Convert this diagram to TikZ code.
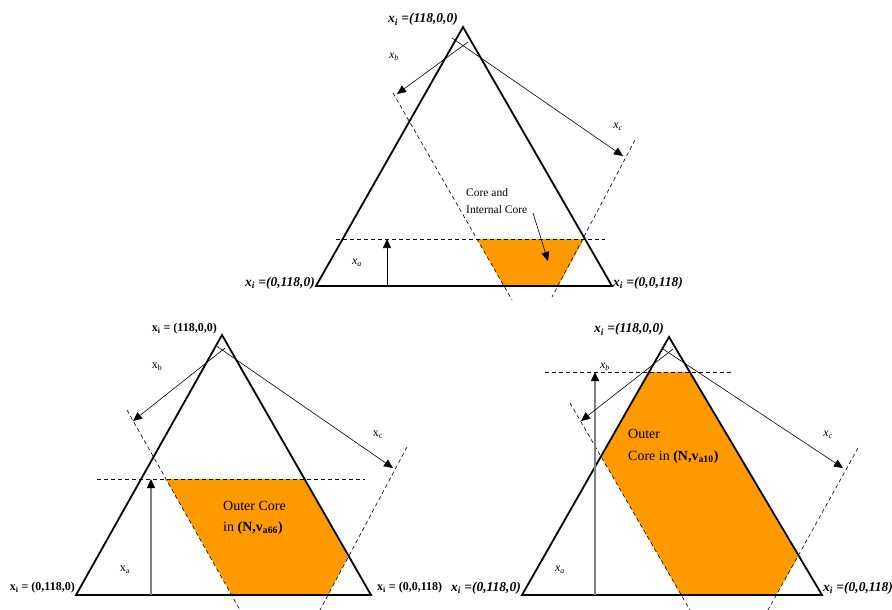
\documentclass[tikz,border=0pt]{standalone}
\usepackage{fontspec}
\setmainfont{Liberation Serif}
\usetikzlibrary{arrows.meta,positioning}
\definecolor{coreorange}{HTML}{FF9900}
\tikzset{
  side/.style={line width=1.8pt, line join=miter},
  cutline/.style={line width=0.6pt, dash pattern=on 4pt off 3pt},
  dirarrow/.style={line width=0.6pt, -{Triangle[length=9pt,width=8pt]}},
  uparrow/.style={line width=1.3pt, draw=gray, -{Triangle[length=9pt,width=8pt,color=black]}},
  core/.style={fill=coreorange, draw=none},
  vlabel/.style={font=\fontsize{12}{14}\selectfont\bfseries, inner sep=1pt},
  ilabel/.style={font=\fontsize{13.5}{15}\selectfont\bfseries\itshape, inner sep=1pt},
  xlabel/.style={font=\fontsize{12}{13}\selectfont, inner sep=0pt},
  coretext/.style={font=\fontsize{14}{21}\selectfont, align=left, inner sep=0pt, anchor=west}
}
\begin{document}
\begin{tikzpicture}[x=1pt,y=-1pt]
\useasboundingbox (0,0) rectangle (892,610);

% top triangle
\coordinate (tA) at (463,27);
\coordinate (tL) at (316,286);
\coordinate (tR) at (612,286);
\fill[core] (477,239) -- (584,239) -- (558,286) -- (504,286) -- cycle;
\coordinate (tH1) at (336,239); \coordinate (tH2) at (605,239);
\coordinate (tB1) at (393,93);  \coordinate (tB2) at (512,300);
\coordinate (tC1) at (635,140); \coordinate (tC2) at (552,297);
\draw[cutline] (tH1) -- (tH2);
\draw[cutline] (tB1) -- (tB2);
\draw[cutline] (tC1) -- (tC2);
\draw[side] (tA) -- (tL) -- (tR) -- cycle;
\coordinate (tOa) at (387,286); \coordinate (tEa) at (387,239);
\coordinate (tOb) at (468,42);  \coordinate (tEb) at (397,94);
\coordinate (tOc) at (452,38);  \coordinate (tEc) at (623,156);
\draw[dirarrow] (tOa) -- (tEa);
\draw[dirarrow] (tOb) -- (tEb);
\draw[dirarrow] (tOc) -- (tEc);
\node[xlabel] (txa) at (357,263) {\textit{x}\textsubscript{\textit{a}}};
\node[xlabel] (txb) at (394,57) {\textit{x}\textsubscript{\textit{b}}};
\node[xlabel] (txc) at (618,127) {\textit{x}\textsubscript{\textit{c}}};
\node[ilabel, anchor=south east] (tAlab) at ([xshift=-4pt]tA) {x\textsubscript{i} =(118,0,0)};
\node[ilabel, anchor=east] (tLlab) at ([yshift=3pt]tL) {x\textsubscript{i} =(0,118,0)};
\node[ilabel, anchor=west] (tRlab) at ([yshift=3pt]tR) {x\textsubscript{i} =(0,0,118)};
\node[coretext, font=\fontsize{11.5}{17}\selectfont] (tcore) at (466,201) {Core and\\Internal Core};
\coordinate (tCa) at (533,213);
\coordinate (tCb) at (548,261);
\draw[dirarrow] (tCa) -- (tCb);

% lower left triangle
\coordinate (lA) at (222,335);
\coordinate (lL) at (76,595);
\coordinate (lR) at (371,595);
\fill[core] (166,479) -- (304,479) -- (348,557) -- (328,595) -- (232,595) -- cycle;
\coordinate (lH1) at (97,479);  \coordinate (lH2) at (365,479);
\coordinate (lB1) at (127,410); \coordinate (lB2) at (240,610);
\coordinate (lC1) at (407,447); \coordinate (lC2) at (320,610);
\draw[cutline] (lH1) -- (lH2);
\draw[cutline] (lB1) -- (lB2);
\draw[cutline] (lC1) -- (lC2);
\draw[side] (lA) -- (lL) -- (lR) -- cycle;
\coordinate (lOa) at (151,595); \coordinate (lEa) at (151,479);
\coordinate (lOb) at (225,348); \coordinate (lEb) at (133,421);
\coordinate (lOc) at (215,345); \coordinate (lEc) at (393,468);
\draw[uparrow] (lOa) -- (lEa);
\draw[dirarrow] (lOb) -- (lEb);
\draw[dirarrow] (lOc) -- (lEc);
\node[xlabel] (lxa) at (125,570) {x\textsubscript{a}};
\node[xlabel] (lxb) at (157,367) {x\textsubscript{b}};
\node[xlabel] (lxc) at (378,435) {x\textsubscript{c}};
\node[vlabel, anchor=south east] (lAlab) at ([xshift=-4pt]lA) {x\textsubscript{i} = (118,0,0)};
\node[vlabel, anchor=east] (lLlab) at ([yshift=7pt]lL) {x\textsubscript{i} = (0,118,0)};
\node[vlabel, anchor=west] (lRlab) at ([xshift=5pt,yshift=7pt]lR) {x\textsubscript{i} = (0,0,118)};
\node[coretext] (lcore) at (223,518) {Outer Core\\in \textbf{(N,v\textsubscript{a66})}};

% lower right triangle
\coordinate (rA) at (669,337);
\coordinate (rL) at (522,595);
\coordinate (rR) at (822,595);
\fill[core] (649,372) -- (690,372) -- (798,557) -- (776,595) -- (681,595) -- (601,456) -- cycle;
\coordinate (rH1) at (545,372); \coordinate (rH2) at (732,372);
\coordinate (rB1) at (570,403); \coordinate (rB2) at (690,610);
\coordinate (rC1) at (858,448); \coordinate (rC2) at (768,610);
\draw[cutline] (rH1) -- (rH2);
\draw[cutline] (rB1) -- (rB2);
\draw[cutline] (rC1) -- (rC2);
\draw[side] (rA) -- (rL) -- (rR) -- cycle;
\coordinate (rOa) at (595,595); \coordinate (rEa) at (595,372);
\coordinate (rOb) at (673,349); \coordinate (rEb) at (581,421);
\coordinate (rOc) at (663,349); \coordinate (rEc) at (843,468);
\draw[uparrow] (rOa) -- (rEa);
\draw[dirarrow] (rOb) -- (rEb);
\draw[dirarrow] (rOc) -- (rEc);
\node[xlabel] (rxa) at (560,570) {\textit{x}\textsubscript{\textit{a}}};
\node[xlabel] (rxb) at (605,367) {\textit{x}\textsubscript{\textit{b}}};
\node[xlabel] (rxc) at (828,435) {\textit{x}\textsubscript{\textit{c}}};
\node[ilabel, anchor=south east] (rAlab) at ([xshift=-4pt]rA) {x\textsubscript{i} =(118,0,0)};
\node[ilabel, anchor=east] (rLlab) at ([yshift=7pt]rL) {x\textsubscript{i} =(0,118,0)};
\node[ilabel, anchor=west] (rRlab) at ([yshift=7pt]rR) {x\textsubscript{i} =(0,0,118)};
\node[coretext, font=\fontsize{14}{22}\selectfont] (rcore) at (628,446) {Outer\\Core in \textbf{(N,v\textsubscript{a10})}};

\end{tikzpicture}
\end{document}
